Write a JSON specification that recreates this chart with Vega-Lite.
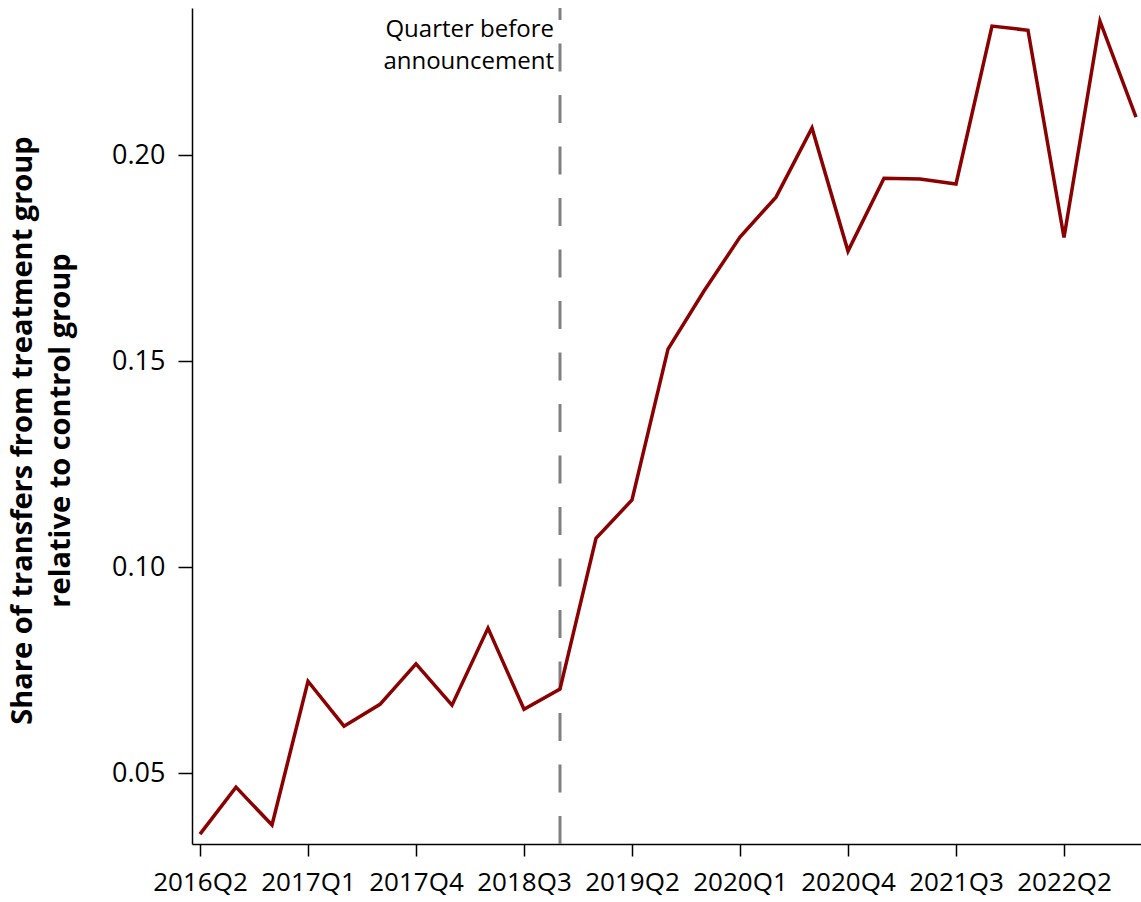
{
  "$schema": "https://vega.github.io/schema/vega-lite/v6.json",
  "autosize": "none",
  "width": 949,
  "height": 836,
  "padding": {"left": 192, "top": 8, "right": 0, "bottom": 58},
  "background": "white",
  "config": {
    "font": "Open Sans",
    "view": {"stroke": null},
    "axis": {
      "domainColor": "black",
      "domainWidth": 1.5,
      "tickColor": "black",
      "tickWidth": 1.5,
      "labelColor": "black",
      "titleColor": "black",
      "grid": false,
      "labelFont": "Open Sans",
      "titleFont": "Open Sans"
    }
  },
  "datasets": {
    "series": [
      {"t": 0, "quarter": "2016Q2", "value": 0.0352},
      {"t": 1, "quarter": "2016Q3", "value": 0.0466},
      {"t": 2, "quarter": "2016Q4", "value": 0.0374},
      {"t": 3, "quarter": "2017Q1", "value": 0.0723},
      {"t": 4, "quarter": "2017Q2", "value": 0.0614},
      {"t": 5, "quarter": "2017Q3", "value": 0.0667},
      {"t": 6, "quarter": "2017Q4", "value": 0.0765},
      {"t": 7, "quarter": "2018Q1", "value": 0.0665},
      {"t": 8, "quarter": "2018Q2", "value": 0.0852},
      {"t": 9, "quarter": "2018Q3", "value": 0.0655},
      {"t": 10, "quarter": "2018Q4", "value": 0.0704},
      {"t": 11, "quarter": "2019Q1", "value": 0.1070},
      {"t": 12, "quarter": "2019Q2", "value": 0.1163},
      {"t": 13, "quarter": "2019Q3", "value": 0.1529},
      {"t": 14, "quarter": "2019Q4", "value": 0.1670},
      {"t": 15, "quarter": "2020Q1", "value": 0.1801},
      {"t": 16, "quarter": "2020Q2", "value": 0.1898},
      {"t": 17, "quarter": "2020Q3", "value": 0.2066},
      {"t": 18, "quarter": "2020Q4", "value": 0.1767},
      {"t": 19, "quarter": "2021Q1", "value": 0.1944},
      {"t": 20, "quarter": "2021Q2", "value": 0.1942},
      {"t": 21, "quarter": "2021Q3", "value": 0.1930},
      {"t": 22, "quarter": "2021Q4", "value": 0.2313},
      {"t": 23, "quarter": "2022Q1", "value": 0.2303},
      {"t": 24, "quarter": "2022Q2", "value": 0.1800},
      {"t": 25, "quarter": "2022Q3", "value": 0.2325},
      {"t": 26, "quarter": "2022Q4", "value": 0.2092}
    ],
    "marker": [
      {"t": 10, "quarter": "2018Q4", "label": "Quarter before announcement"}
    ]
  },
  "layer": [
    {
      "data": {"name": "marker"},
      "mark": {"type": "rule", "color": "#808080", "strokeWidth": 3, "strokeDash": [28, 23.5]},
      "encoding": {
        "x": {"field": "t", "type": "quantitative"},
        "y": {"datum": 0.0328, "type": "quantitative"},
        "y2": {"datum": 0.2357}
      }
    },
    {
      "data": {"name": "series"},
      "mark": {"type": "line", "color": "#8B0000", "strokeWidth": 3.5, "strokeJoin": "miter"},
      "encoding": {
        "x": {
          "field": "t",
          "type": "quantitative",
          "scale": {"domain": [-0.2222, 26.139], "nice": false, "zero": false},
          "axis": {
            "title": null,
            "values": [0, 3, 6, 9, 12, 15, 18, 21, 24],
            "labelExpr": "(2016 + floor((datum.value + 1) / 4)) + 'Q' + ((datum.value + 1) % 4 + 1)",
            "labelFontSize": 26,
            "labelPadding": 13,
            "tickSize": 12,
            "labelFlush": false,
            "labelOverlap": false,
            "labelBound": false
          }
        },
        "y": {
          "field": "value",
          "type": "quantitative",
          "scale": {"domain": [0.0328, 0.2357], "nice": false, "zero": false},
          "axis": {
            "title": ["Share of transfers from treatment group", "relative to control group"],
            "values": [0.05, 0.1, 0.15, 0.2],
            "format": ".2f",
            "labelFontSize": 27,
            "labelPadding": 13,
            "tickSize": 14,
            "titleFontSize": 29,
            "titleFontWeight": "bold",
            "titleLineHeight": 38,
            "titleAngle": -90,
            "titleX": -184,
            "titleY": 422,
            "titleAlign": "center",
            "titleBaseline": "top"
          }
        }
      }
    },
    {
      "data": {"name": "marker"},
      "mark": {
        "type": "text",
        "text": ["Quarter before", "announcement"],
        "align": "right",
        "baseline": "alphabetic",
        "dx": -6,
        "fontSize": 24,
        "lineHeight": 32,
        "color": "black"
      },
      "encoding": {
        "x": {"field": "t", "type": "quantitative"},
        "y": {"datum": 0.2286, "type": "quantitative"}
      }
    }
  ]
}
